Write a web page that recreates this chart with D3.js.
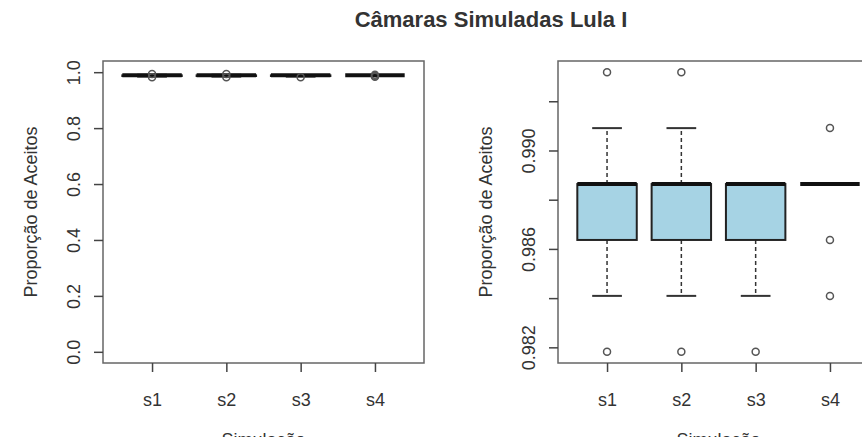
<!DOCTYPE html>
<html>
<head>
<meta charset="utf-8">
<script src="https://cdn.jsdelivr.net/npm/d3@7"></script>
<style>
body { margin:0; background:#fff; }
text { font-family: "Liberation Sans", Arial, sans-serif; fill:#333; }
</style>
</head>
<body>
<script>
// simulações e resumo dos boxplots (proporção de acertos)
var sims = ["s1", "s2", "s3", "s4"];
var whiskerLow  = [0.984091, 0.984091, 0.984091, 0.988636];
var q1          = [0.986364, 0.986364, 0.986364, 0.988636];
var median      = [0.988636, 0.988636, 0.988636, 0.988636];
var q3          = [0.988636, 0.988636, 0.988636, 0.988636];
var whiskerHigh = [0.990909, 0.990909, 0.988636, 0.988636];
var outliers    = [[0.981818, 0.993182], [0.981818, 0.993182], [0.981818], [0.984091, 0.986364, 0.990909]];

var leftTicks  = [0, 0.2, 0.4, 0.6, 0.8, 1.0];
var leftLabels = ["0.0", "0.2", "0.4", "0.6", "0.8", "1.0"];
var rightTicks  = [0.982, 0.984, 0.986, 0.988, 0.990, 0.992];
var rightLabels = ["0.982", "", "0.986", "", "0.990", ""];

var width = 862, height = 437;
var plotTop = 61, plotBottom = 363;

var svg = d3.select("body").append("svg")
	.attr("width", width)
	.attr("height", height);

function pad(ext)
{
	var s = (ext[1] - ext[0]) * 0.04;
	return [ext[0] - s, ext[1] + s];
}

function renderPanel(xRange, yDomain, tickValues, tickLabels)
{
	var x = d3.scalePoint().domain(sims).range(xRange).padding(0.66);
	var y = d3.scaleLinear().domain(yDomain).range([plotBottom, plotTop]);
	var boxW = x.step() * 0.8;
	var idx = sims.map(function(d, i){ return i; });

	var g = svg.append("g");

	var box = g.selectAll("g.box")
		.data(idx).enter()
		.append("g")
		.attr("class", "box");

	// bigodes tracejados
	box.append("line")
		.attr("x1", function(i){ return x(sims[i]); })
		.attr("x2", function(i){ return x(sims[i]); })
		.attr("y1", function(i){ return y(q3[i]); })
		.attr("y2", function(i){ return y(whiskerHigh[i]); })
		.attr("stroke", "#333").attr("stroke-width", 1.5)
		.attr("stroke-dasharray", "4,3");
	box.append("line")
		.attr("x1", function(i){ return x(sims[i]); })
		.attr("x2", function(i){ return x(sims[i]); })
		.attr("y1", function(i){ return y(q1[i]); })
		.attr("y2", function(i){ return y(whiskerLow[i]); })
		.attr("stroke", "#333").attr("stroke-width", 1.5)
		.attr("stroke-dasharray", "4,3");
	// caps
	box.filter(function(i){ return whiskerHigh[i] > q3[i]; })
		.append("line")
		.attr("x1", function(i){ return x(sims[i]) - boxW/4; })
		.attr("x2", function(i){ return x(sims[i]) + boxW/4; })
		.attr("y1", function(i){ return y(whiskerHigh[i]); })
		.attr("y2", function(i){ return y(whiskerHigh[i]); })
		.attr("stroke", "#333").attr("stroke-width", 2);
	box.filter(function(i){ return whiskerLow[i] < q1[i]; })
		.append("line")
		.attr("x1", function(i){ return x(sims[i]) - boxW/4; })
		.attr("x2", function(i){ return x(sims[i]) + boxW/4; })
		.attr("y1", function(i){ return y(whiskerLow[i]); })
		.attr("y2", function(i){ return y(whiskerLow[i]); })
		.attr("stroke", "#333").attr("stroke-width", 2);

	box.filter(function(i){ return q3[i] > q1[i]; })
		.append("rect")
		.attr("x", function(i){ return x(sims[i]) - boxW/2; })
		.attr("y", function(i){ return y(q3[i]); })
		.attr("width", boxW)
		.attr("height", function(i){ return y(q1[i]) - y(q3[i]); })
		.attr("fill", "#a6d3e4")
		.attr("stroke", "#222").attr("stroke-width", 2);

	box.append("line")
		.attr("x1", function(i){ return x(sims[i]) - boxW/2; })
		.attr("x2", function(i){ return x(sims[i]) + boxW/2; })
		.attr("y1", function(i){ return y(median[i]); })
		.attr("y2", function(i){ return y(median[i]); })
		.attr("stroke", "#111").attr("stroke-width", 4);

	box.selectAll("circle")
		.data(function(i){ return outliers[i].map(function(v){ return [i, v]; }); })
		.enter()
		.append("circle")
		.attr("cx", function(d){ return x(sims[d[0]]); })
		.attr("cy", function(d){ return y(d[1]); })
		.attr("r", 3.5)
		.attr("fill", "none")
		.attr("stroke", "#555").attr("stroke-width", 1.5);

	// moldura
	var x0 = xRange[0], x1 = xRange[1];
	g.append("rect")
		.attr("x", x0).attr("y", plotTop)
		.attr("width", x1 - x0).attr("height", plotBottom - plotTop)
		.attr("fill", "none")
		.attr("stroke", "#666").attr("stroke-width", 1.5);

	var yAxis = g.append("g")
		.attr("transform", "translate(" + x0 + ",0)")
		.call(d3.axisLeft(y).tickValues(tickValues).tickSize(9)
			.tickFormat(function(d, i){ return tickLabels[i]; }));
	yAxis.select(".domain").remove();
	yAxis.selectAll("line").attr("stroke", "#444").attr("stroke-width", 1.5);
	yAxis.selectAll("text")
		.attr("transform", "rotate(-90)")
		.attr("x", 0).attr("y", -23).attr("dy", null)
		.attr("text-anchor", "middle")
		.style("font-size", "18px")
		.attr("fill", "#333");

	var xAxis = g.append("g")
		.attr("transform", "translate(0," + plotBottom + ")")
		.call(d3.axisBottom(x).tickSize(9));
	xAxis.select(".domain").remove();
	xAxis.selectAll("line").attr("stroke", "#444").attr("stroke-width", 1.5);
	xAxis.selectAll("text")
		.attr("y", 43).attr("dy", null)
		.style("font-size", "18px")
		.attr("fill", "#333");

	g.append("text")
		.attr("transform", "translate(" + (x0 - 66) + "," + ((plotTop + plotBottom)/2) + ") rotate(-90)")
		.attr("text-anchor", "middle")
		.style("font-size", "18px")
		.text("Proporção de Aceitos");

	g.append("text")
		.attr("x", (x0 + x1)/2)
		.attr("y", 446)
		.attr("text-anchor", "middle")
		.style("font-size", "18px")
		.text("Simulação");
}

renderPanel([103, 424], pad([0, 1]), leftTicks, leftLabels);

var allVals = whiskerLow.concat(whiskerHigh, q1, q3, median, d3.merge(outliers));
renderPanel([558, 879], pad(d3.extent(allVals)), rightTicks, rightLabels);

svg.append("text")
	.attr("x", 491)
	.attr("y", 27)
	.attr("text-anchor", "middle")
	.style("font-size", "22px")
	.style("font-weight", "bold")
	.attr("fill", "#222")
	.text("Câmaras Simuladas Lula I");
</script>
</body>
</html>
